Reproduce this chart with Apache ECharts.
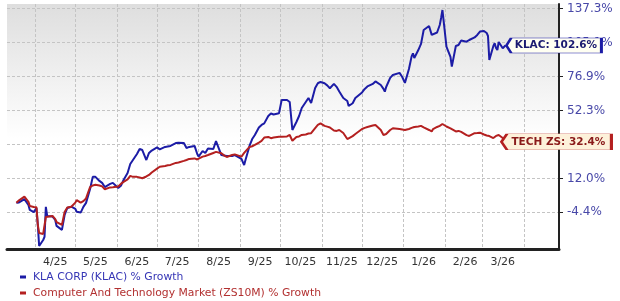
<!DOCTYPE html>
<html><head><meta charset="utf-8">
<script src="https://cdn.jsdelivr.net/npm/echarts@6/dist/echarts.min.js"></script>
<style>html,body{margin:0;padding:0;background:#fff}#c{width:620px;height:301px}</style>
</head><body><div id="c"></div>
<script>
// ---- data (percent growth since start) ----
const dates = [
 '2025-03-18','2025-03-20','2025-03-21','2025-03-24','2025-03-25','2025-03-27','2025-03-28','2025-03-31',
 '2025-04-02','2025-04-03','2025-04-04','2025-04-07','2025-04-08','2025-04-09','2025-04-10','2025-04-14','2025-04-16','2025-04-17','2025-04-21','2025-04-23','2025-04-25','2025-04-28',
 '2025-05-01','2025-05-02','2025-05-05','2025-05-07','2025-05-09','2025-05-12','2025-05-14','2025-05-16','2025-05-19','2025-05-21','2025-05-23','2025-05-27','2025-05-29',
 '2025-06-02','2025-06-04','2025-06-06','2025-06-09','2025-06-11','2025-06-13','2025-06-16','2025-06-18','2025-06-20','2025-06-23','2025-06-25','2025-06-27',
 '2025-07-01','2025-07-03','2025-07-07','2025-07-09','2025-07-11','2025-07-15','2025-07-17','2025-07-21','2025-07-23','2025-07-25','2025-07-29','2025-07-31',
 '2025-08-01','2025-08-04','2025-08-06','2025-08-08','2025-08-12','2025-08-14','2025-08-15','2025-08-18','2025-08-20','2025-08-22','2025-08-26','2025-08-28',
 '2025-09-02','2025-09-04','2025-09-05','2025-09-08','2025-09-10','2025-09-12','2025-09-15','2025-09-17','2025-09-19','2025-09-22','2025-09-24','2025-09-26','2025-09-30',
 '2025-10-02','2025-10-03','2025-10-06','2025-10-08','2025-10-10','2025-10-13','2025-10-15','2025-10-17','2025-10-20','2025-10-22','2025-10-24','2025-10-27','2025-10-29','2025-10-31',
 '2025-11-03','2025-11-05','2025-11-07','2025-11-10','2025-11-12','2025-11-14','2025-11-17','2025-11-18','2025-11-20','2025-11-21','2025-11-24','2025-11-26',
 '2025-12-01','2025-12-03','2025-12-05','2025-12-09','2025-12-11','2025-12-15','2025-12-17','2025-12-18','2025-12-19','2025-12-22','2025-12-24','2025-12-29','2025-12-31',
 '2026-01-02','2026-01-05','2026-01-07','2026-01-08','2026-01-09','2026-01-12','2026-01-14','2026-01-16','2026-01-20','2026-01-22','2026-01-23','2026-01-26','2026-01-27','2026-01-28','2026-01-29','2026-01-30',
 '2026-02-02','2026-02-03','2026-02-05','2026-02-06','2026-02-09','2026-02-11','2026-02-13','2026-02-17','2026-02-19','2026-02-23','2026-02-25','2026-02-27',
 '2026-03-02','2026-03-04','2026-03-05','2026-03-06','2026-03-09','2026-03-10','2026-03-11','2026-03-12','2026-03-13','2026-03-16','2026-03-17','2026-03-18'
];
const klac = [
 0, 0.1, 0.7, 1.7, 2.5, -1.1, -3.4, -4.4,
 -2.5, -10.1, -18.8, -16.4, -15.1, -2.0, -6.1, -6.4, -7.9, -10.5, -12.2, -5.7, -2.5, -1.9,
 -2.9, -4.2, -4.6, -2.0, -0.1, 6.6, 12.8, 12.8, 10.7, 9.7, 7.6, 9.2, 9.7,
 7.1, 8.2, 11.2, 14.8, 19.7, 21.9, 25.3, 28.2, 27.6, 21.9, 25.9, 27.3,
 29.1, 28.0, 29.4, 29.7, 30.0, 31.7, 31.9, 31.7, 28.8, 29.4, 30.0, 25.3,
 23.8, 27.0, 25.9, 28.5, 28.2, 32.9, 33.8, 24.7, 24.5, 24.2, 24.2, 24.7,
 22.5, 19.1, 21.9, 30.0, 34.1, 36.6, 41.3, 42.9, 43.9, 48.7, 50.4, 49.7, 50.5,
 59.7, 59.0, 59.7, 58.3, 39.7, 44.8, 48.7, 54.1, 58.3, 61.1, 57.6, 68.4, 71.9, 72.9,
 71.9, 70.3, 68.2, 71.4, 69.2, 65.8, 61.1, 61.6, 59.0, 55.5, 57.4, 61.1,
 65.1, 67.7, 69.5, 71.4, 73.3, 70.6, 67.7, 65.7, 69.1, 76.0, 78.3, 79.9, 76.7,
 72.2, 83.0, 93.3, 95.9, 92.0, 98.7, 104.0, 116.6, 120.4, 112.1, 111.1, 114.3, 115.2, 121.3, 128.1, 136.0,
 101.6, 98.7, 92.8, 84.9, 102.2, 103.1, 107.1, 106.0, 107.5, 109.8, 112.1, 115.2,
 115.7, 113.9, 111.1, 90.3, 102.2, 104.6, 100.5, 98.7, 105.7, 100.2, 100.5, 102.6
];
const tech = [
 0, 1.1, 1.7, 2.9, 3.3, 0.4, -1.6, -2.0,
 -2.2, -10.1, -13.5, -13.9, -13.5, -6.6, -6.1, -6.1, -7.5, -8.8, -10.1, -4.3, -2.3, -1.9,
 0.0, 1.2, 0.0, 0.7, 2.0, 7.6, 8.4, 8.7, 8.4, 7.9, 6.5, 7.4, 7.5,
 7.9, 9.2, 10.2, 11.5, 13.3, 12.8, 12.8, 12.5, 12.1, 13.0, 13.8, 15.1,
 17.2, 18.2, 18.6, 19.0, 19.2, 20.3, 20.5, 21.4, 21.9, 22.5, 22.8, 22.2,
 21.9, 23.8, 24.2, 24.7, 25.9, 26.5, 26.5, 25.7, 24.5, 23.6, 24.7, 25.1,
 23.8, 25.9, 27.0, 29.4, 29.8, 30.6, 32.0, 33.0, 35.0, 35.4, 34.6, 35.0, 35.5,
 35.5, 35.5, 35.7, 36.6, 33.1, 35.4, 35.7, 36.6, 36.9, 37.5, 37.7, 40.8, 42.9, 43.9,
 42.3, 41.8, 41.3, 39.4, 39.1, 39.7, 37.8, 36.6, 34.1, 33.1, 35.9, 37.2,
 40.3, 41.0, 41.6, 42.5, 42.9, 39.7, 36.6, 35.7, 37.2, 39.7, 40.8, 40.3, 40.0,
 39.7, 40.3, 41.0, 41.3, 41.6, 41.9, 42.3, 41.3, 39.7, 38.8, 40.3, 41.6, 41.9, 42.3, 42.9, 43.5,
 41.9, 41.6, 40.7, 40.0, 38.8, 39.1, 38.5, 36.5, 36.0, 37.7, 37.8, 38.0,
 36.9, 36.3, 36.0, 35.9, 34.7, 35.4, 36.0, 36.3, 36.6, 34.7, 33.5, 32.4
];
const seriesNames = ['KLA CORP (KLAC) % Growth', 'Computer And Technology Market (ZS10M) % Growth'];
const endTags = ['KLAC', 'TECH ZS'];
const yTicks = [-4.4, 12.0, 30.8, 52.3, 76.9, 105.1, 137.3];
const yRange = [-20, 142.1];
const xLabels = ['4/25','5/25','6/25','7/25','8/25','9/25','10/25','11/25','12/25','1/26','2/26','3/26'];
const xRange = ['2025-03-11', '2026-04-27'];

// ---- helpers ----
const toTs = s => { const [y, m, d] = s.split('-').map(Number); return new Date(y, m - 1, d).getTime(); };
const T = p => Math.log(1.2 + p / 100);          // growth-scale transform of the value axis
const labelMonth = l => { const [m, y] = l.split('/').map(Number); return [2000 + y, m]; };
const monthStarts = xLabels.map(l => { const [y, m] = labelMonth(l); return new Date(y, m - 1, 1).getTime(); });
{ const [y, m] = labelMonth(xLabels[xLabels.length - 1]); monthStarts.push(new Date(y, m, 1).getTime()); }
const monthMids = xLabels.map(l => { const [y, m] = labelMonth(l); return new Date(y, m - 1, 16).getTime(); });
const yTickT = yTicks.map(T);

const colors = ['#1c1ca6', '#b42020'];
const textColors = ['#3535b5', '#b23030'];
const tagFill = ['#fffff2', '#fdf1da'];
const tagText = ['#1a1a70', '#8a1a1a'];
const tagSize = [[95, 15], [110, 16]];
const tagShift = [1, -4];

function mkSeries(name, vals, i) {
  const last = vals.length - 1;
  return {
    name, type: 'line', showSymbol: false, symbol: 'none',
    data: dates.map((d, k) => [toTs(d), T(vals[k])]),
    lineStyle: { color: colors[i], width: 2 },
    itemStyle: { color: colors[i] },
    z: 2 + i,
    markPoint: {
      symbol: 'path://M0,5L5,0L100,0L100,10L5,10Z',
      symbolSize: tagSize[i],
      symbolOffset: [tagSize[i][0] / 2 + tagShift[i], 0],
      silent: true,
      itemStyle: { color: tagFill[i], borderColor: colors[i], borderWidth: 1.2 },
      label: {
        show: true, position: 'inside', offset: [2, 0],
        formatter: endTags[i] + ': ' + vals[last].toFixed(1) + '%',
        color: tagText[i], fontFamily: 'DejaVu Sans', fontSize: 10.5, fontWeight: 'bold'
      },
      data: [{ coord: [toTs(dates[last]), T(vals[last])] }]
    }
  };
}

const chart = echarts.init(document.getElementById('c'), null, { renderer: 'canvas' });
chart.setOption({
  animation: false,
  backgroundColor: '#ffffff',
  grid: {
    left: 7, right: 61, top: 4, bottom: 52, show: true, borderWidth: 0,
    backgroundColor: { type: 'linear', x: 0, y: 0, x2: 0, y2: 1,
      colorStops: [{ offset: 0, color: '#dedede' }, { offset: 0.55, color: '#ffffff' }, { offset: 1, color: '#ffffff' }] }
  },
  legend: {
    orient: 'vertical', left: 20, top: 271, itemGap: 4, padding: 0,
    icon: 'rect', itemWidth: 6, itemHeight: 3,
    textStyle: { fontFamily: 'DejaVu Sans', fontSize: 10.8, lineHeight: 12, padding: [0, 0, 0, 2] },
    data: seriesNames.map((n, i) => ({ name: n, textStyle: { color: textColors[i] } }))
  },
  xAxis: {
    type: 'value', min: toTs(xRange[0]), max: toTs(xRange[1]),
    axisLine: { show: true, onZero: false, lineStyle: { color: '#222', width: 3 } },
    axisTick: { show: false, customValues: monthStarts },
    splitLine: { show: true, lineStyle: { color: '#c4c4c4', type: [3, 2], width: 1 } },
    axisLabel: {
      customValues: monthMids, margin: 8,
      color: '#333', fontFamily: 'DejaVu Sans', fontSize: 11,
      formatter: v => { const i = monthMids.findIndex(m => Math.abs(m - v) < 3600e3); return i >= 0 ? xLabels[i] : ''; }
    }
  },
  yAxis: {
    type: 'value', position: 'right', min: T(yRange[0]), max: T(yRange[1]),
    axisLine: { show: true, lineStyle: { color: '#222', width: 2 } },
    axisTick: { show: true, length: 4, customValues: yTickT, lineStyle: { color: '#222' } },
    splitLine: { show: true, lineStyle: { color: '#c4c4c4', type: [3, 2], width: 1 } },
    axisLabel: {
      customValues: yTickT, margin: 8,
      color: '#4848a8', fontFamily: 'DejaVu Sans', fontSize: 12,
      formatter: v => { const i = yTickT.findIndex(t => Math.abs(t - v) < 1e-6); return i >= 0 ? yTicks[i].toFixed(1) + '%' : ''; }
    }
  },
  series: [mkSeries(seriesNames[0], klac, 0), mkSeries(seriesNames[1], tech, 1)]
});
</script></body></html>
